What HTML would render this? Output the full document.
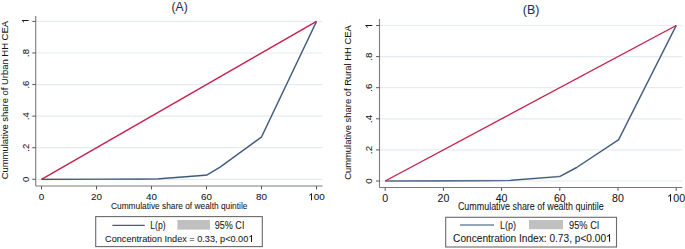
<!DOCTYPE html>
<html><head><meta charset="utf-8"><style>
html,body{margin:0;padding:0;background:#fff;}
body{width:685px;height:249px;overflow:hidden;}
svg{display:block;font-family:"Liberation Sans",sans-serif;}
text{fill:#161616;stroke:#161616;stroke-width:0.06px;}
</style></head><body>
<svg width="685" height="249" viewBox="0 0 685 249">
<rect width="685" height="249" fill="#fff"/>
<line x1="35.7" y1="179.30" x2="322.5" y2="179.30" stroke="#e4ecf0" stroke-width="1.2"/>
<line x1="35.7" y1="147.72" x2="322.5" y2="147.72" stroke="#e4ecf0" stroke-width="1.2"/>
<line x1="35.7" y1="116.14" x2="322.5" y2="116.14" stroke="#e4ecf0" stroke-width="1.2"/>
<line x1="35.7" y1="84.56" x2="322.5" y2="84.56" stroke="#e4ecf0" stroke-width="1.2"/>
<line x1="35.7" y1="52.98" x2="322.5" y2="52.98" stroke="#e4ecf0" stroke-width="1.2"/>
<line x1="35.7" y1="21.40" x2="322.5" y2="21.40" stroke="#e4ecf0" stroke-width="1.2"/>
<polyline points="41.50,179.30 96.50,179.22 137.75,179.06 158.10,178.83 206.50,175.19 220.25,166.98 261.50,136.98 316.50,21.40" fill="none" stroke="#c6c6c6" stroke-width="1.8" stroke-linejoin="round"/>
<polyline points="41.50,179.30 96.50,179.22 137.75,179.06 158.10,178.83 206.50,175.19 220.25,166.98 261.50,136.98 316.50,21.40" fill="none" stroke="#35577f" stroke-width="1.15" stroke-linejoin="round"/>
<line x1="41.50" y1="179.30" x2="316.50" y2="21.40" stroke="#c8204a" stroke-width="1.4"/>
<line x1="35.7" y1="16" x2="35.7" y2="186.0" stroke="#808080" stroke-width="1.15"/>
<line x1="35.7" y1="186.0" x2="322.5" y2="186.0" stroke="#7a7a7a" stroke-width="1.0"/>
<line x1="32.300000000000004" y1="179.30" x2="35.7" y2="179.30" stroke="#555" stroke-width="1"/>
<text transform="translate(28.6,179.30) rotate(-90)" text-anchor="middle" font-size="9.5">0</text>
<line x1="32.300000000000004" y1="147.72" x2="35.7" y2="147.72" stroke="#555" stroke-width="1"/>
<text transform="translate(28.6,147.72) rotate(-90)" text-anchor="middle" font-size="9.5">.2</text>
<line x1="32.300000000000004" y1="116.14" x2="35.7" y2="116.14" stroke="#555" stroke-width="1"/>
<text transform="translate(28.6,116.14) rotate(-90)" text-anchor="middle" font-size="9.5">.4</text>
<line x1="32.300000000000004" y1="84.56" x2="35.7" y2="84.56" stroke="#555" stroke-width="1"/>
<text transform="translate(28.6,84.56) rotate(-90)" text-anchor="middle" font-size="9.5">.6</text>
<line x1="32.300000000000004" y1="52.98" x2="35.7" y2="52.98" stroke="#555" stroke-width="1"/>
<text transform="translate(28.6,52.98) rotate(-90)" text-anchor="middle" font-size="9.5">.8</text>
<line x1="32.300000000000004" y1="21.40" x2="35.7" y2="21.40" stroke="#555" stroke-width="1"/>
<g transform="translate(28.6,20.94) rotate(-90)"><path d="M773,0L568,0L568,1147Q508,1085 407,1023Q306,961 213,926L213,1110Q373,1180 485,1281Q597,1382 640,1472L773,1472Z" transform="translate(-2.64,0.00) scale(0.00464,-0.00464)" fill="#161616"/></g>
<line x1="41.50" y1="186.0" x2="41.50" y2="189.4" stroke="#555" stroke-width="1"/>
<text x="41.50" y="200.3" text-anchor="middle" font-size="9.9">0</text>
<line x1="96.50" y1="186.0" x2="96.50" y2="189.4" stroke="#555" stroke-width="1"/>
<text x="96.50" y="200.3" text-anchor="middle" font-size="9.9">20</text>
<line x1="151.50" y1="186.0" x2="151.50" y2="189.4" stroke="#555" stroke-width="1"/>
<text x="151.50" y="200.3" text-anchor="middle" font-size="9.9">40</text>
<line x1="206.50" y1="186.0" x2="206.50" y2="189.4" stroke="#555" stroke-width="1"/>
<text x="206.50" y="200.3" text-anchor="middle" font-size="9.9">60</text>
<line x1="261.50" y1="186.0" x2="261.50" y2="189.4" stroke="#555" stroke-width="1"/>
<text x="261.50" y="200.3" text-anchor="middle" font-size="9.9">80</text>
<line x1="316.50" y1="186.0" x2="316.50" y2="189.4" stroke="#555" stroke-width="1"/>
<path d="M773,0L568,0L568,1147Q508,1085 407,1023Q306,961 213,926L213,1110Q373,1180 485,1281Q597,1382 640,1472L773,1472Z" transform="translate(308.25,200.30) scale(0.00483,-0.00483)" fill="#161616"/>
<text x="313.75" y="200.3" font-size="9.9">00</text>
<text x="179.6" y="10.9" text-anchor="middle" font-size="12.4" style="fill:#1e2f5e" textLength="16.2" lengthAdjust="spacingAndGlyphs">(A)</text>
<text transform="translate(7.7,100.15) rotate(-90)" text-anchor="middle" font-size="9.2" textLength="158.3" lengthAdjust="spacingAndGlyphs">Cummulative share of Urban HH CEA</text>
<text x="111" y="208.7" font-size="9.4" textLength="136.4" lengthAdjust="spacingAndGlyphs">Cummulative share of wealth quintile</text>
<rect x="95.7" y="216.6" width="166.60000000000002" height="30.0" fill="none" stroke="#6a6a6a" stroke-width="1.1"/>
<line x1="112.4" y1="225.45" x2="144.8" y2="225.45" stroke="#3f5f86" stroke-width="1.3"/>
<text x="150.3" y="228.6" font-size="10.2" textLength="15.4" lengthAdjust="spacingAndGlyphs">L(p)</text>
<rect x="177.4" y="220" width="32.6" height="9.6" fill="#c0c0c0"/>
<text x="214.8" y="228.8" font-size="10.2" textLength="29.6" lengthAdjust="spacingAndGlyphs">95% CI</text>
<text x="105.1" y="242" font-size="9.8" textLength="143.2" lengthAdjust="spacingAndGlyphs">Concentration Index = 0.33, p&lt;0.00</text><path d="M773,0L568,0L568,1147Q508,1085 407,1023Q306,961 213,926L213,1110Q373,1180 485,1281Q597,1382 640,1472L773,1472Z" transform="translate(248.28,242.00) scale(0.00479,-0.00479)" fill="#161616"/>
<line x1="379.5" y1="181.00" x2="682.3" y2="181.00" stroke="#e4ecf0" stroke-width="1.2"/>
<line x1="379.5" y1="149.90" x2="682.3" y2="149.90" stroke="#e4ecf0" stroke-width="1.2"/>
<line x1="379.5" y1="118.80" x2="682.3" y2="118.80" stroke="#e4ecf0" stroke-width="1.2"/>
<line x1="379.5" y1="87.70" x2="682.3" y2="87.70" stroke="#e4ecf0" stroke-width="1.2"/>
<line x1="379.5" y1="56.60" x2="682.3" y2="56.60" stroke="#e4ecf0" stroke-width="1.2"/>
<line x1="379.5" y1="25.50" x2="682.3" y2="25.50" stroke="#e4ecf0" stroke-width="1.2"/>
<polyline points="385.20,181.00 443.40,180.92 487.05,180.77 508.58,180.53 559.80,176.49 576.39,167.63 618.58,139.79 676.20,25.50" fill="none" stroke="#c6c6c6" stroke-width="1.8" stroke-linejoin="round"/>
<polyline points="385.20,181.00 443.40,180.92 487.05,180.77 508.58,180.53 559.80,176.49 576.39,167.63 618.58,139.79 676.20,25.50" fill="none" stroke="#35577f" stroke-width="1.15" stroke-linejoin="round"/>
<line x1="385.20" y1="181.00" x2="676.20" y2="25.50" stroke="#c8204a" stroke-width="1.4"/>
<line x1="379.5" y1="19" x2="379.5" y2="187.5" stroke="#808080" stroke-width="1.15"/>
<line x1="379.5" y1="187.5" x2="682.3" y2="187.5" stroke="#7a7a7a" stroke-width="1.0"/>
<line x1="376.1" y1="181.00" x2="379.5" y2="181.00" stroke="#555" stroke-width="1"/>
<text transform="translate(372.3,181.00) rotate(-90)" text-anchor="middle" font-size="9.8">0</text>
<line x1="376.1" y1="149.90" x2="379.5" y2="149.90" stroke="#555" stroke-width="1"/>
<text transform="translate(372.3,149.90) rotate(-90)" text-anchor="middle" font-size="9.8">.2</text>
<line x1="376.1" y1="118.80" x2="379.5" y2="118.80" stroke="#555" stroke-width="1"/>
<text transform="translate(372.3,118.80) rotate(-90)" text-anchor="middle" font-size="9.8">.4</text>
<line x1="376.1" y1="87.70" x2="379.5" y2="87.70" stroke="#555" stroke-width="1"/>
<text transform="translate(372.3,87.70) rotate(-90)" text-anchor="middle" font-size="9.8">.6</text>
<line x1="376.1" y1="56.60" x2="379.5" y2="56.60" stroke="#555" stroke-width="1"/>
<text transform="translate(372.3,56.60) rotate(-90)" text-anchor="middle" font-size="9.8">.8</text>
<line x1="376.1" y1="25.50" x2="379.5" y2="25.50" stroke="#555" stroke-width="1"/>
<g transform="translate(372.3,25.97) rotate(-90)"><path d="M773,0L568,0L568,1147Q508,1085 407,1023Q306,961 213,926L213,1110Q373,1180 485,1281Q597,1382 640,1472L773,1472Z" transform="translate(-2.72,0.00) scale(0.00479,-0.00479)" fill="#161616"/></g>
<line x1="385.20" y1="187.5" x2="385.20" y2="190.9" stroke="#555" stroke-width="1"/>
<text x="385.20" y="201.6" text-anchor="middle" font-size="10.6">0</text>
<line x1="443.40" y1="187.5" x2="443.40" y2="190.9" stroke="#555" stroke-width="1"/>
<text x="443.40" y="201.6" text-anchor="middle" font-size="10.6">20</text>
<line x1="501.60" y1="187.5" x2="501.60" y2="190.9" stroke="#555" stroke-width="1"/>
<text x="501.60" y="201.6" text-anchor="middle" font-size="10.6">40</text>
<line x1="559.80" y1="187.5" x2="559.80" y2="190.9" stroke="#555" stroke-width="1"/>
<text x="559.80" y="201.6" text-anchor="middle" font-size="10.6">60</text>
<line x1="618.00" y1="187.5" x2="618.00" y2="190.9" stroke="#555" stroke-width="1"/>
<text x="618.00" y="201.6" text-anchor="middle" font-size="10.6">80</text>
<line x1="676.20" y1="187.5" x2="676.20" y2="190.9" stroke="#555" stroke-width="1"/>
<path d="M773,0L568,0L568,1147Q508,1085 407,1023Q306,961 213,926L213,1110Q373,1180 485,1281Q597,1382 640,1472L773,1472Z" transform="translate(667.06,201.60) scale(0.00518,-0.00518)" fill="#161616"/>
<text x="673.25" y="201.6" font-size="10.6">00</text>
<text x="531.1" y="14.0" text-anchor="middle" font-size="12.6" style="fill:#1e2f5e" textLength="16.5" lengthAdjust="spacingAndGlyphs">(B)</text>
<text transform="translate(351.2,102.55) rotate(-90)" text-anchor="middle" font-size="9.8" textLength="154.5" lengthAdjust="spacingAndGlyphs">Cummulative share of Rural HH CEA</text>
<text x="457.9" y="209.9" font-size="10.0" textLength="145.9" lengthAdjust="spacingAndGlyphs">Cummulative share of wealth quintile</text>
<rect x="445.7" y="217.3" width="170.8" height="29.69999999999999" fill="none" stroke="#6a6a6a" stroke-width="1.1"/>
<line x1="460" y1="224.9" x2="494" y2="224.9" stroke="#6f89a6" stroke-width="1.5"/>
<text x="500" y="228.6" font-size="10.8" textLength="16.0" lengthAdjust="spacingAndGlyphs">L(p)</text>
<rect x="529" y="220" width="34" height="9.2" fill="#c0c0c0"/>
<text x="569" y="228.6" font-size="10.8" textLength="30.4" lengthAdjust="spacingAndGlyphs">95% CI</text>
<text x="453.1" y="241.7" font-size="10.6" textLength="152.96" lengthAdjust="spacingAndGlyphs">Concentration Index: 0.73, p&lt;0.00</text><path d="M773,0L568,0L568,1147Q508,1085 407,1023Q306,961 213,926L213,1110Q373,1180 485,1281Q597,1382 640,1472L773,1472Z" transform="translate(606.06,241.70) scale(0.00518,-0.00518)" fill="#161616"/>
</svg>
</body></html>
